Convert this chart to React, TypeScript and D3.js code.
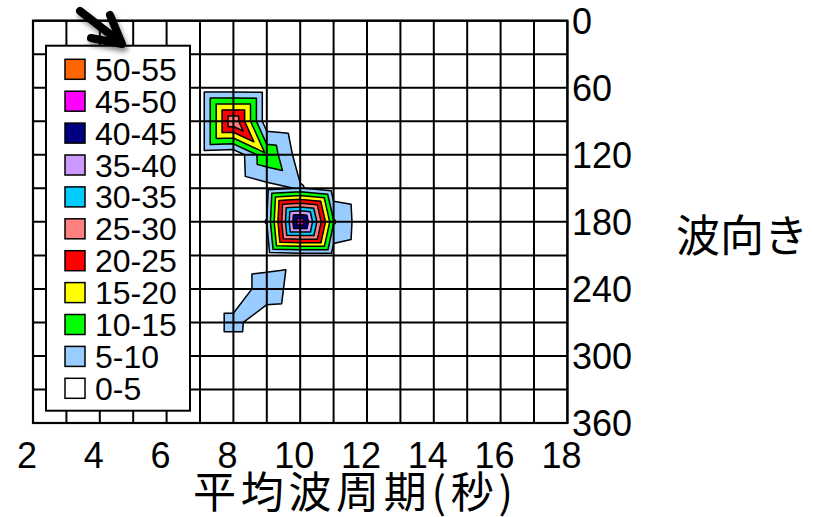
import React from 'react';
import * as d3 from 'd3';

// Mean wave period (s) — one column per value
const periods = [2, 3, 4, 5, 6, 7, 8, 9, 10, 11, 12, 13, 14, 15, 16, 17, 18];
// Wave direction (deg) — one row per value
const directions = [0, 30, 60, 90, 120, 150, 180, 210, 240, 270, 300, 330, 360];

// Occurrence frequency (%) for each direction row, indexed by period
const row000 = [0, 0, 0, 0, 0, 0, 0, 0, 0, 0, 0, 0, 0, 0, 0, 0, 0];
const row030 = [0, 0, 0, 0, 0, 0, 0, 0, 0, 0, 0, 0, 0, 0, 0, 0, 0];
const row060 = [0, 0, 0, 0, 0, 1.4, 1.4, 1.2, 0, 0, 0, 0, 0, 0, 0, 0, 0];
const row090 = [0, 0, 0, 0, 0, 1.4, 29.5, 1.2, 0, 0, 0, 0, 0, 0, 0, 0, 0];
const row120 = [0, 0, 0, 0, 0, 1.4, 0.5, 14, 2.3, 0, 0, 0, 0, 0, 0, 0, 0];
const row150 = [0, 0, 0, 0, 0, 0, 0, 3, 5.5, 1.5, 0, 0, 0, 0, 0, 0, 0];
const row180 = [0, 0, 0, 0, 0, 0, 0, 5.2, 49.5, 10.5, 0.5, 0, 0, 0, 0, 0, 0];
const row210 = [0, 0, 0, 0, 0, 0, 0, 1, 2, 2, 0, 0, 0, 0, 0, 0, 0];
const row240 = [0, 0, 0, 0, 0, 0, 0, 9, 1, 0, 0, 0, 0, 0, 0, 0, 0];
const row270 = [0, 0, 0, 0, 0, 0, 6.9, 0.5, 0, 0, 0, 0, 0, 0, 0, 0, 0];
const row300 = [0, 0, 0, 0, 0, 0, 0, 0, 0, 0, 0, 0, 0, 0, 0, 0, 0];
const row330 = [0, 0, 0, 0, 0, 0, 0, 0, 0, 0, 0, 0, 0, 0, 0, 0, 0];
const row360 = [0, 0, 0, 0, 0, 0, 0, 0, 0, 0, 0, 0, 0, 0, 0, 0, 0];
const frequency = [row000, row030, row060, row090, row120, row150, row180, row210, row240, row270, row300, row330, row360];

// Contour bands (lower bound of each band) and their fills
const bandLower = [0, 5, 10, 15, 20, 25, 30, 35, 40, 45, 50];
const bandColors = ['#FFFFFF', '#99CCFF', '#00FF00', '#FFFF00', '#FF0000', '#FF8080', '#00CCFF', '#CC99FF', '#000080', '#FF00FF', '#FF6600'];
const bandLabels = ['0-5', '5-10', '10-15', '15-20', '20-25', '25-30', '30-35', '35-40', '40-45', '45-50', '50-55'];

const xTickValues = [2, 4, 6, 8, 10, 12, 14, 16, 18];
const yTickValues = [0, 60, 120, 180, 240, 300, 360];

const W = 813;
const H = 517;
const LATIN = '"Liberation Sans", Arial, sans-serif';
const CJK = '"Noto Sans CJK JP", "Noto Sans CJK SC", sans-serif';

type Pt = [number, number, number]; // period, direction, value

// Split each grid cell into two triangles along the diagonal joining the larger pair of corners
function buildTriangles(): Pt[][] {
  const tris: Pt[][] = [];
  for (let j = 0; j < directions.length - 1; j++) {
    for (let i = 0; i < periods.length - 1; i++) {
      const p00: Pt = [periods[i], directions[j], frequency[j][i]];
      const p10: Pt = [periods[i + 1], directions[j], frequency[j][i + 1]];
      const p01: Pt = [periods[i], directions[j + 1], frequency[j + 1][i]];
      const p11: Pt = [periods[i + 1], directions[j + 1], frequency[j + 1][i + 1]];
      if (p00[2] + p11[2] >= p10[2] + p01[2]) {
        tris.push([p00, p10, p11], [p00, p11, p01]);
      } else {
        tris.push([p00, p10, p01], [p10, p11, p01]);
      }
    }
  }
  return tris;
}

// Part of a polygon where the linearly interpolated value is >= level
function clipAbove(poly: Pt[], level: number): Pt[] {
  const out: Pt[] = [];
  for (let k = 0; k < poly.length; k++) {
    const a = poly[k];
    const b = poly[(k + 1) % poly.length];
    const ina = a[2] >= level;
    const inb = b[2] >= level;
    if (ina) out.push(a);
    if (ina !== inb) {
      const t = (level - a[2]) / (b[2] - a[2]);
      out.push([a[0] + t * (b[0] - a[0]), a[1] + t * (b[1] - a[1]), level]);
    }
  }
  return out;
}

// Iso-line segment through a triangle
function isoSegment(tri: Pt[], level: number): [number, number][] {
  const pts: [number, number][] = [];
  for (let k = 0; k < 3; k++) {
    const a = tri[k];
    const b = tri[(k + 1) % 3];
    if ((a[2] >= level) !== (b[2] >= level)) {
      const t = (level - a[2]) / (b[2] - a[2]);
      pts.push([a[0] + t * (b[0] - a[0]), a[1] + t * (b[1] - a[1])]);
    }
  }
  return pts;
}

export default function App() {
  const x = d3.scaleLinear().domain([2, 18]).range([33, 567.4]);
  const y = d3.scaleLinear().domain([0, 360]).range([20.7, 423]);

  const triangles = buildTriangles();
  const line = d3.line<[number, number]>().x((d) => x(d[0])).y((d) => y(d[1]));

  const layers = bandLower.slice(1).map((lo, k) => {
    const pieces = triangles
      .map((t) => clipAbove(t, lo))
      .filter((p) => p.length >= 3)
      .map((p) => line(p.map((q) => [q[0], q[1]] as [number, number])) + 'Z')
      .join('');
    return { lo, color: bandColors[k + 1], d: pieces };
  });

  const isoPaths = bandLower.slice(1).map((lo) =>
    triangles
      .map((t) => isoSegment(t, lo))
      .filter((s) => s.length === 2)
      .map((s) => line(s))
      .join('')
  );

  const gridX = d3.range(2, 19, 1);
  const gridY = d3.range(0, 361, 30);

  const legendRows = bandLabels.slice().reverse();
  const legendColors = bandColors.slice().reverse();
  const legendTop = 69.3;
  const legendStep = 31.9;

  return (
    <svg width={W} height={H} style={{ position: 'absolute', left: 0, top: 0, background: '#fff' }}>
      <defs>
        <filter id="arrowShadow" x="-50%" y="-50%" width="200%" height="200%">
          <feDropShadow dx="2" dy="4" stdDeviation="2.5" floodColor="#000" floodOpacity="0.45" />
        </filter>
      </defs>
      <rect x={0} y={0} width={W} height={H} fill="#fff" />
      <rect x={x(2)} y={y(0)} width={x(18) - x(2)} height={y(360) - y(0)} fill="#fff" />

      <g>
        {layers.map((l) => (
          <path key={l.lo} d={l.d} fill={l.color} stroke={l.color} strokeWidth={0.7} strokeLinejoin="round" />
        ))}
      </g>
      <g fill="none" stroke="#000" strokeWidth={1.5} strokeLinecap="round">
        {isoPaths.map((d, k) => (
          <path key={k} d={d} />
        ))}
      </g>

      <g stroke="#000" strokeWidth={2}>
        {gridX.map((v) => (
          <line key={'gx' + v} x1={x(v)} x2={x(v)} y1={y(0)} y2={y(360)} />
        ))}
        {gridY.map((v) => (
          <line key={'gy' + v} x1={x(2)} x2={x(18)} y1={y(v)} y2={y(v)} />
        ))}
      </g>
      <rect x={x(2)} y={y(0)} width={x(18) - x(2)} height={y(360) - y(0)} fill="none" stroke="#000" strokeWidth={2.2} />

      <g>
        <rect x={46} y={45.7} width={144} height={365} fill="#fff" stroke="#000" strokeWidth={2} />
        {legendRows.map((label, k) => {
          const cy = legendTop + k * legendStep;
          return (
            <g key={label}>
              <rect x={65} y={cy - 10} width={20} height={20} fill={legendColors[k]} stroke="#000" strokeWidth={1.5} />
              <text x={95} y={cy} dy="0.36em" fontFamily={LATIN} fontSize={32} fill="#000">
                {label}
              </text>
            </g>
          );
        })}
      </g>

      <g filter="url(#arrowShadow)" stroke="#000" strokeWidth={8} strokeLinecap="round" strokeLinejoin="round" fill="none">
        <path d="M80,11 L120,42" />
        <path d="M91,38 L122,44 L110,15" />
      </g>

      <g fontFamily={LATIN} fontSize={36} fill="#000">
        {xTickValues.map((v) => (
          <text key={'xt' + v} x={x(v) - 6} y={468} textAnchor="middle">
            {v}
          </text>
        ))}
        {yTickValues.map((v) => (
          <text key={'yt' + v} x={572} y={y(v)} dy="0.36em">
            {v}
          </text>
        ))}
      </g>

      <text x={193} y={508} fontFamily={CJK} fontSize={43} textLength={320} lengthAdjust="spacing" fill="#000">
        平均波周期(秒)
      </text>
      <text x={676} y={252} fontFamily={CJK} fontSize={44} fill="#000">
        波向き
      </text>
    </svg>
  );
}
